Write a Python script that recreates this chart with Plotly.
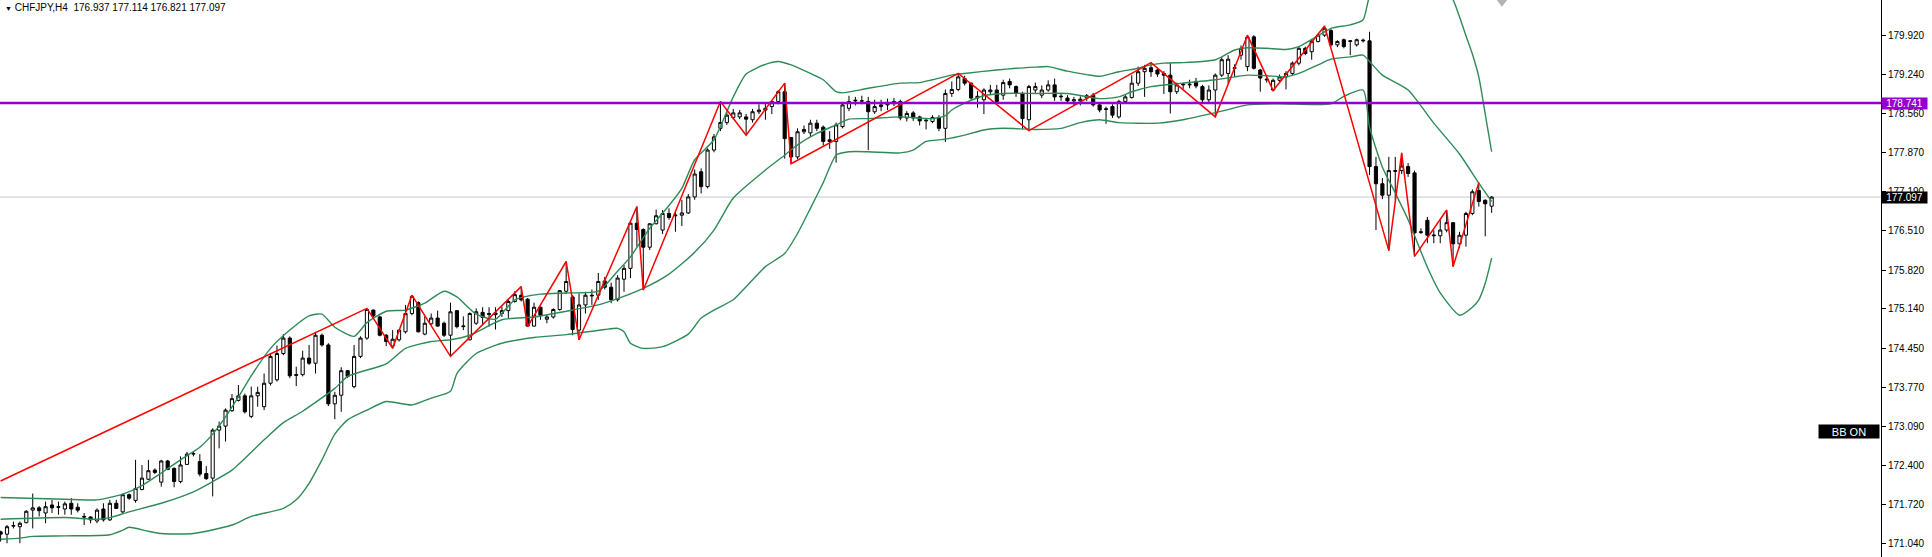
import plotly.graph_objects as go

symbol = "CHFJPY,H4"

opens = [171.24,171.20,171.34,171.33,171.40,171.62,171.66,171.57,171.71,171.68,
171.64,171.74,171.67,171.51,171.50,171.43,171.64,171.45,171.74,171.59,
171.89,171.79,171.98,172.16,172.32,172.11,172.48,172.35,172.12,172.42,
172.60,172.47,172.26,172.18,173.02,173.09,173.36,173.54,173.62,173.26,
173.62,173.43,173.84,173.90,174.36,174.63,173.99,173.99,174.28,174.19,
174.68,174.51,173.48,173.63,174.06,173.78,174.31,174.63,175.12,175.00,
174.68,174.49,174.60,174.74,175.06,175.25,174.70,174.88,174.98,174.89,
174.68,175.11,174.83,174.60,174.89,175.08,175.04,175.04,175.06,175.11,
175.27,175.38,175.31,174.84,175.17,174.96,175.00,175.13,175.45,175.35,
174.77,175.21,175.38,175.38,175.63,175.52,175.30,175.66,175.85,176.64,
176.53,176.22,176.63,176.52,176.81,176.77,176.78,176.82,177.10,177.54,
177.28,177.92,178.30,178.40,178.49,178.50,178.50,178.45,178.59,178.62,
178.68,178.77,178.94,178.14,177.80,178.24,178.22,178.39,178.32,178.07,
178.07,178.33,178.65,178.78,178.78,178.77,178.59,178.68,178.71,178.73,
178.77,178.48,178.57,178.50,178.43,178.42,178.49,178.30,178.91,178.98,
179.17,179.09,178.83,178.80,178.94,178.97,178.88,179.12,179.03,178.91,
178.45,178.97,178.88,178.97,179.06,178.85,178.83,178.78,178.78,178.83,
178.88,178.71,178.63,178.68,178.50,178.77,178.84,179.09,179.29,179.36,
179.32,179.26,179.23,178.94,179.06,179.06,179.12,179.03,178.80,178.97,
179.23,179.26,179.35,179.58,179.38,179.90,179.32,179.16,178.97,179.14,
179.20,179.26,179.44,179.70,179.64,179.82,179.93,180.01,179.76,179.85,
179.82,179.76,179.83,179.83,177.63,177.33,177.13,177.56,177.56,177.63,
177.52,176.49,176.69,176.42,176.42,176.52,176.65,176.28,176.43,176.81,
177.21,177.04,176.937]

highs = [171.26,171.36,171.42,171.42,171.62,171.91,171.69,171.77,171.80,171.77,
171.77,171.83,171.74,171.57,171.51,171.65,171.74,171.80,171.80,171.91,
171.91,172.50,172.41,172.50,172.35,172.50,172.50,172.37,172.56,172.64,
172.64,172.60,172.39,173.05,173.17,173.40,173.65,173.81,173.66,173.78,
173.78,174.01,174.36,174.50,174.70,174.66,174.13,174.41,174.51,174.74,
174.71,174.54,173.69,174.12,174.07,174.51,174.66,175.15,175.13,175.02,
174.70,174.77,174.77,175.21,175.38,175.27,175.01,175.06,175.11,174.92,
175.25,175.12,175.01,175.08,175.15,175.17,175.17,175.17,175.18,175.30,
175.45,175.53,175.33,175.25,175.18,175.05,175.15,175.47,175.97,175.38,
175.41,175.44,175.48,175.77,175.70,175.60,175.73,175.91,176.67,176.93,
176.55,176.64,176.88,176.87,176.90,176.87,177.05,177.15,177.58,177.60,
177.95,178.20,178.77,178.60,178.64,178.62,178.55,178.64,178.72,178.76,
178.78,178.97,179.09,178.14,178.30,178.35,178.45,178.45,178.35,178.25,
178.40,178.75,178.87,178.85,178.87,178.85,178.80,178.80,178.82,178.83,
178.80,178.60,178.60,178.52,178.48,178.53,178.53,178.98,179.12,179.26,
179.22,179.10,178.95,179.00,179.06,179.06,179.15,179.17,179.05,178.94,
179.06,179.10,179.05,179.14,179.17,178.90,178.88,178.85,178.86,178.90,
178.92,178.74,178.68,178.72,178.80,178.88,179.23,179.38,179.41,179.45,
179.35,179.30,179.44,179.10,179.10,179.15,179.18,179.06,179.05,179.26,
179.55,179.58,179.42,179.75,179.93,179.93,179.34,179.20,179.17,179.24,
179.30,179.47,179.72,179.73,179.85,179.96,180.09,180.04,179.84,179.87,
179.84,179.87,179.87,179.99,177.80,177.43,177.80,177.80,177.87,177.69,
177.56,176.55,176.75,176.52,176.70,176.87,176.66,176.49,176.84,177.23,
177.35,177.06,177.114]

lows = [171.07,171.04,171.30,171.04,171.39,171.30,171.51,171.39,171.57,171.54,
171.54,171.54,171.58,171.36,171.39,171.39,171.42,171.43,171.64,171.57,
171.80,171.75,171.97,172.15,172.25,172.03,172.32,172.02,172.09,172.41,
172.56,172.21,172.15,171.86,172.70,172.82,173.34,173.52,173.31,173.23,
173.43,173.37,173.80,173.87,174.33,173.93,173.79,173.96,174.16,174.01,
174.48,173.44,173.21,173.34,173.93,173.75,174.28,174.60,174.99,174.66,
174.49,174.45,174.57,174.71,175.03,174.73,174.68,174.86,174.83,174.65,
174.31,174.80,174.77,174.59,174.86,174.86,174.83,174.78,175.00,174.97,
175.25,175.27,174.83,174.83,174.95,174.89,174.97,175.11,175.40,174.68,
174.60,175.06,175.21,175.30,175.48,175.24,175.27,175.44,175.68,176.23,
175.47,176.17,176.62,176.45,176.70,176.49,176.59,176.80,177.05,177.16,
177.25,177.88,178.25,178.36,178.45,178.46,178.18,178.40,178.55,178.45,
178.55,178.72,177.77,177.68,177.76,178.20,178.15,178.25,178.00,177.94,
177.70,178.30,178.60,178.70,178.72,177.92,178.55,178.60,178.62,178.69,
178.44,178.42,178.43,178.35,178.28,178.39,178.25,178.06,178.85,178.95,
179.05,178.80,178.66,178.55,178.88,178.72,178.80,179.00,178.85,178.29,
178.26,178.92,178.83,178.94,178.78,178.78,178.73,178.70,178.70,178.78,
178.68,178.58,178.38,178.48,178.47,178.74,178.82,179.04,178.85,179.20,
179.20,178.90,178.56,178.90,178.99,179.00,179.00,178.76,178.75,178.50,
179.20,179.09,179.20,179.50,179.30,179.33,178.94,179.10,178.95,179.10,
178.98,179.23,179.40,179.58,179.50,179.80,179.90,179.73,179.72,179.70,
179.58,179.73,179.80,177.48,176.52,177.06,176.16,177.05,177.50,177.45,
176.06,176.45,176.29,176.29,176.29,176.48,175.88,176.20,176.23,176.78,
176.93,176.41,176.821]

closes = [171.20,171.33,171.35,171.39,171.60,171.66,171.61,171.68,171.66,171.67,
171.73,171.64,171.62,171.50,171.45,171.62,171.45,171.74,171.65,171.89,
171.83,172.00,172.18,172.31,172.28,172.48,172.33,172.12,172.41,172.60,
172.61,172.25,172.17,173.02,173.09,173.37,173.57,173.62,173.34,173.62,
173.68,173.84,174.31,174.36,174.63,173.97,173.98,174.28,174.19,174.68,
174.51,173.48,173.63,174.06,173.96,174.31,174.63,175.13,175.02,174.68,
174.57,174.61,174.77,175.06,175.36,174.74,174.89,174.98,174.84,174.68,
175.09,174.83,174.84,175.06,175.09,174.99,175.06,175.07,175.11,175.27,
175.39,175.30,174.84,175.17,175.03,175.00,175.13,175.46,175.62,174.78,
175.21,175.38,175.37,175.62,175.52,175.30,175.68,175.85,176.64,176.53,
176.22,176.63,176.77,176.81,176.74,176.78,176.82,177.10,177.50,177.28,
177.92,178.15,178.40,178.53,178.57,178.57,178.46,178.59,178.62,178.65,
178.77,178.94,178.12,177.80,178.24,178.28,178.39,178.30,178.07,178.10,
178.36,178.71,178.77,178.79,178.78,178.59,178.68,178.71,178.73,178.77,
178.48,178.56,178.48,178.43,178.44,178.49,178.30,178.91,178.98,179.20,
179.09,178.83,178.86,178.97,178.97,178.77,179.10,179.06,178.91,178.47,
179.03,179.03,178.97,179.06,178.85,178.86,178.78,178.80,178.81,178.87,
178.71,178.62,178.64,178.53,178.77,178.85,179.09,179.29,179.35,179.29,
179.25,179.23,178.94,179.06,179.07,179.07,179.04,178.80,178.97,179.23,
179.50,179.51,179.36,179.70,179.90,179.35,179.18,179.15,179.14,179.20,
179.26,179.44,179.70,179.61,179.82,179.93,180.05,179.76,179.82,179.73,
179.83,179.85,179.84,177.63,177.33,177.13,177.56,177.55,177.64,177.51,
176.47,176.48,176.43,176.43,176.52,176.65,176.28,176.43,176.81,177.19,
177.02,176.98,177.097]

# Bollinger bands (bar index, price)
bb_upper_idx = [0,10,15,19,22,25,28,31,33,35,37,39,42,45,48,50,52,55,57,60,63,66,69,71,74,77,80,84,88,93,96,98,101,104,106,108,111,114,116,119,121,123,126,128,130,131,135,140,143,145,148,150,155,158,161,163,166,169,171,174,177,179,181,184,187,189,190,192,194,197,200,202,205,207,210,212,213,215,217,219,222,224,226,227,228,229,230,231,232]
bb_upper = [171.84,171.81,171.80,171.90,172.05,172.27,172.50,172.72,172.95,173.25,173.60,173.97,174.45,174.77,175.02,175.05,174.82,174.66,174.90,175.10,175.12,175.24,175.45,175.35,175.05,174.96,175.30,175.40,175.42,175.45,175.80,176.05,176.55,176.95,177.25,177.75,178.10,178.85,179.25,179.42,179.47,179.41,179.26,179.15,178.94,178.92,179.00,179.09,179.10,179.15,179.23,179.26,179.32,179.35,179.37,179.38,179.30,179.24,179.21,179.29,179.35,179.41,179.44,179.45,179.47,179.50,179.55,179.67,179.71,179.70,179.68,179.73,179.92,180.05,180.11,180.20,180.60,180.84,180.93,181.20,181.10,180.90,180.55,180.25,179.92,179.60,179.20,178.55,177.89]

bb_mid_idx = [0,10,15,17,20,25,30,33,36,41,44,47,52,54,60,63,67,70,73,78,83,88,93,96,100,104,108,111,114,119,122,124,127,130,132,135,140,145,147,148,150,153,156,161,166,171,174,176,179,184,189,192,194,197,200,202,205,207,210,212,213,215,219,223,227,230,232]
bb_mid = [171.46,171.49,171.46,171.49,171.59,171.74,171.94,172.12,172.32,172.85,173.15,173.35,173.75,173.96,174.18,174.45,174.57,174.60,174.68,174.95,175.00,175.10,175.21,175.32,175.50,175.75,176.13,176.52,177.08,177.57,177.83,178.01,178.21,178.36,178.46,178.47,178.50,178.47,178.52,178.62,178.74,178.87,178.91,178.91,178.91,178.82,178.85,178.94,179.03,179.09,179.15,179.20,179.23,179.22,179.20,179.26,179.41,179.51,179.55,179.58,179.47,179.23,178.97,178.39,177.85,177.34,177.02]

bb_lower_idx = [0,3,5,10,17,19,20,23,25,30,36,39,44,46,48,50,52,54,57,60,64,67,70,71,74,78,83,88,94,96,97,98,100,103,107,109,111,114,116,119,122,124,126,128,130,132,135,140,142,144,147,150,153,156,161,165,168,171,174,180,184,190,194,199,207,209,212,213,215,217,219,222,224,227,229,230,231,232]
bb_lower = [171.11,171.13,171.16,171.17,171.19,171.27,171.32,171.25,171.21,171.21,171.36,171.51,171.65,171.80,172.09,172.50,172.95,173.20,173.37,173.52,173.46,173.58,173.70,174.01,174.36,174.54,174.64,174.69,174.78,174.80,174.74,174.54,174.45,174.48,174.70,174.98,175.12,175.30,175.53,175.88,176.11,176.46,176.90,177.35,177.83,177.89,177.89,177.87,177.92,178.07,178.11,178.18,178.27,178.30,178.28,178.30,178.40,178.45,178.40,178.39,178.45,178.60,178.71,178.73,178.73,178.86,178.97,178.32,177.62,177.17,176.70,175.87,175.42,175.03,175.17,175.30,175.59,176.03]

# ZigZag vertices (bar index, price)
zz_idx = [0,57,61,64,70,81,82,88,90,99,100,112,116,122,123,149,160,179,189,194,198,206,216,218,220,225,226,230]
zz_val = [172.13,175.15,174.45,175.38,174.31,175.53,174.83,175.97,174.60,176.93,175.47,178.77,178.18,179.09,177.68,179.26,178.26,179.45,178.50,179.93,178.96,180.09,176.16,177.87,176.06,176.87,175.88,177.35]

hline_level = 178.741
tick_vals = [179.920,179.240,178.560,177.870,177.190,176.510,175.820,175.140,174.450,173.770,173.090,172.400,171.720,171.040]
y_range = [170.80, 180.545]
x_range = [-0.093, 292.58]

n = len(closes)
idx = list(range(n))
highs = [max(h, o, c) for h, o, c in zip(highs, opens, closes)]
lows = [min(l, o, c) for l, o, c in zip(lows, opens, closes)]

BB_COLOR = "#2e8b57"
fig = go.Figure()
fig.add_trace(go.Candlestick(
    x=idx, open=opens, high=highs, low=lows, close=closes,
    increasing=dict(line=dict(color="black", width=1), fillcolor="white"),
    decreasing=dict(line=dict(color="black", width=1), fillcolor="black"),
    whiskerwidth=0, showlegend=False, hoverinfo="skip"))
for xs, ys in [(bb_upper_idx, bb_upper), (bb_mid_idx, bb_mid), (bb_lower_idx, bb_lower)]:
    fig.add_trace(go.Scatter(x=xs, y=ys, mode="lines",
                             line=dict(color=BB_COLOR, width=1.4, shape="spline", smoothing=0.6),
                             showlegend=False, hoverinfo="skip"))
fig.add_trace(go.Scatter(x=zz_idx, y=zz_val, mode="lines",
                         line=dict(color="#ff0000", width=1.5),
                         showlegend=False, hoverinfo="skip"))

last = closes[-1]
fig.add_shape(type="line", xref="paper", x0=0, x1=1, yref="y", y0=last, y1=last,
              line=dict(color="#c8c8c8", width=1), layer="below")
fig.add_shape(type="line", xref="paper", x0=0, x1=1, yref="y", y0=hline_level, y1=hline_level,
              line=dict(color="#9400d3", width=2.5))
# chart shift marker
shift_x = n + 0.6
fig.add_trace(go.Scatter(x=[shift_x], y=[y_range[1] - 0.04], mode="markers",
                         marker=dict(symbol="triangle-down", size=9, color="#b4b4b4"),
                         cliponaxis=False, showlegend=False, hoverinfo="skip"))

FONT = "Liberation Sans, Arial, sans-serif"
header = (f'<span style="font-size:7px">▼</span> {symbol}  '
          f'{opens[-1]:.3f} {highs[-1]:.3f} {lows[-1]:.3f} {closes[-1]:.3f}')
fig.add_annotation(xref="paper", yref="paper", x=0, y=1, xanchor="left", yanchor="top",
                   xshift=3, yshift=0, text=header, showarrow=False,
                   font=dict(family=FONT, size=10, color="black"))
for val, bg in [(hline_level, "#9400d3"), (last, "black")]:
    fig.add_annotation(xref="paper", yref="y", x=1, y=val, xanchor="left", yanchor="middle",
                       text=f"{val:.3f}", showarrow=False, bgcolor=bg, borderpad=0,
                       width=45, height=11, align="center",
                       font=dict(family=FONT, size=10, color="white"))
fig.add_annotation(xref="paper", yref="paper", x=1, y=1 - 431 / 557, xanchor="right", yanchor="middle",
                   xshift=-1, text="BB ON", showarrow=False, bgcolor="black", borderpad=0,
                   width=60, height=13, align="center",
                   font=dict(family=FONT, size=11, color="white"))

fig.update_layout(
    width=1932, height=557, autosize=False,
    margin=dict(l=0, r=51, t=0, b=0),
    paper_bgcolor="white", plot_bgcolor="white",
    xaxis=dict(range=x_range, visible=False, rangeslider=dict(visible=False), fixedrange=True),
    yaxis=dict(range=y_range, side="right", showgrid=False, zeroline=False,
               showline=True, linecolor="black", linewidth=1,
               ticks="outside", ticklen=4, tickcolor="black",
               tickvals=tick_vals, ticktext=[f"{v:.3f}" for v in tick_vals],
               tickfont=dict(family=FONT, size=10, color="black")),
    showlegend=False,
)
fig.write_html("out.html", config={"displayModeBar": False},
               post_script="document.body.style.margin='0px';document.documentElement.style.overflow='hidden';")
